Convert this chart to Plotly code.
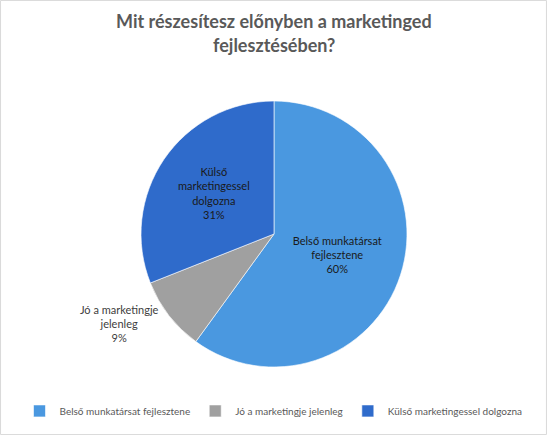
import plotly.graph_objects as go

categories = ["Belső munkatársat fejlesztene", "Jó a marketingje jelenleg", "Külső marketingessel dolgozna"]
wrapped = ["Belső munkatársat<br>fejlesztene", "Jó a marketingje<br>jelenleg", "Külső<br>marketingessel<br>dolgozna"]
values = [60, 9, 31]
colors = ["#4A98E0", "#A0A0A0", "#2F6BCB"]
text_pos = ["inside", "outside", "inside"]
title_lines = ["Mit részesítesz előnyben a marketinged", "fejlesztésében?"]

FONT = "Lato, Open Sans, sans-serif"

fig = go.Figure()
fig.add_trace(go.Pie(
    labels=categories,
    values=values,
    text=wrapped,
    texttemplate="%{text}<br>%{percent:.0%}",
    textposition=text_pos,
    insidetextorientation="horizontal",
    sort=False,
    direction="clockwise",
    rotation=0,
    marker=dict(colors=colors, line=dict(color="#ffffff", width=0.6)),
    insidetextfont=dict(family=FONT, size=11, color="#1a1a1a"),
    outsidetextfont=dict(family=FONT, size=11, color="#404040"),
    domain=dict(x=[0.2578, 0.744], y=[0.1563, 0.7678]),
    hoverinfo="label+percent",
))

title_y = [0.951, 0.897]
annotations = [dict(
    text="<b>" + line + "</b>", xref="paper", yref="paper",
    x=0.5, y=yy, xanchor="center", yanchor="middle", showarrow=False,
    font=dict(family=FONT, size=18, color="#595959"),
) for line, yy in zip(title_lines, title_y)]

fig.update_layout(
    width=547, height=435,
    margin=dict(l=0, r=0, t=0, b=0),
    paper_bgcolor="#ffffff",
    plot_bgcolor="#ffffff",
    showlegend=True,
    legend=dict(
        orientation="h", x=0.5, xanchor="center", y=0.022, yanchor="bottom",
        font=dict(family=FONT, size=10, color="#595959"),
        traceorder="normal", itemwidth=30,
    ),
    annotations=annotations,
    shapes=[dict(type="rect", xref="paper", yref="paper", x0=0.001, x1=0.999, y0=0.001, y1=0.999,
                 line=dict(color="#D9D9D9", width=1), fillcolor="rgba(0,0,0,0)")],
)

fig.write_html("out.html", config={"displayModeBar": False},
               post_script="document.body.style.margin='0px';")
